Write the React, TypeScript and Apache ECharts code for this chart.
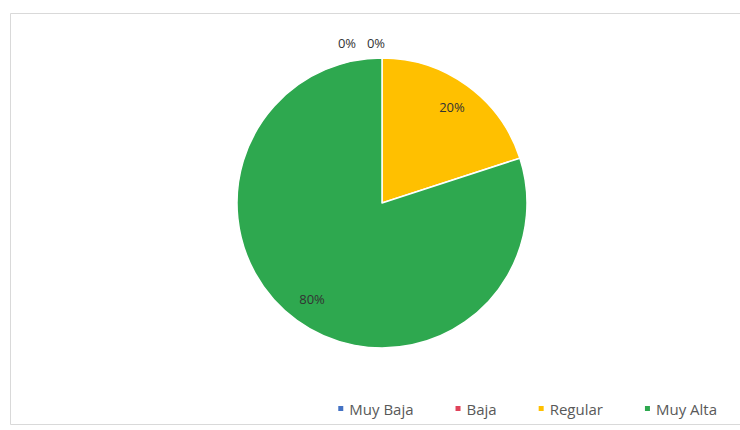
import React, { useEffect, useRef } from "react";
import * as echarts from "echarts";

const categories = ["Muy Baja", "Baja", "Regular", "Muy Alta"];
const values = [0, 0, 20, 80];
const colors = ["#4472C4", "#E0435A", "#FFC000", "#2EA84F"];

const CX = 382;
const CY = 203;
const R = 145;

export default function App() {
  const ref = useRef<HTMLDivElement>(null);
  useEffect(() => {
    if (!ref.current) return;
    const chart = echarts.init(ref.current, undefined, { renderer: "svg" });
    const data = categories.map((name, i) => ({
      name,
      value: values[i],
      itemStyle: { color: colors[i] },
    }));
    const zeroPos: Record<number, [number, number]> = { 0: [CX - 35, 43], 1: [CX - 6, 43] };
    chart.setOption({
      animation: false,
      backgroundColor: "#ffffff",
      graphic: [
        {
          type: "rect",
          shape: { x: 10.5, y: 13.5, width: 740, height: 411 },
          style: { fill: "none", stroke: "#d9d9d9", lineWidth: 1 },
          silent: true,
        },
      ],
      legend: {
        data: categories,
        bottom: 9,
        right: 18,
        icon: "rect",
        itemWidth: 7,
        itemHeight: 7,
        itemGap: 40,
        textStyle: { color: "#595959", fontSize: 15, fontFamily: "Open Sans" },
      },
      series: [
        {
          type: "pie",
          center: [CX, CY],
          radius: [0, R],
          startAngle: 90,
          clockwise: true,
          data,
          label: { show: false },
          labelLine: { show: false },
          itemStyle: { borderColor: "#ffffff", borderWidth: 1.5 },
          emphasis: { disabled: true },
          silent: true,
        },
        {
          type: "pie",
          center: [CX, CY],
          radius: [R * 0.6, R],
          startAngle: 90,
          clockwise: true,
          data: categories.map((name, i) => ({ name, value: values[i] })),
          itemStyle: { color: "transparent" },
          label: {
            show: true,
            position: "inside",
            formatter: "{d}%",
            color: "#333333",
            fontSize: 13,
            fontFamily: "Open Sans",
          },
          labelLine: { show: false },
          labelLayout: (params: any) => {
            const p = zeroPos[params.dataIndex];
            if (p) return { x: p[0], y: p[1], align: "center", verticalAlign: "middle" };
            return {};
          },
          emphasis: { disabled: true },
          silent: true,
          legendHoverLink: false,
        },
      ],
    });
    return () => chart.dispose();
  }, []);
  return (
    <div
      ref={ref}
      style={{ position: "absolute", left: 0, top: 0, width: 740, height: 430 }}
    />
  );
}
